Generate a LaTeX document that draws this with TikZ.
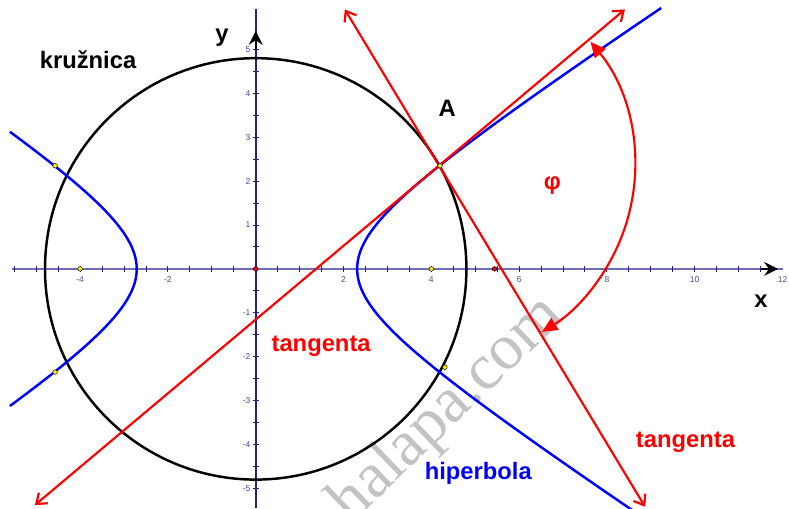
\documentclass[tikz,border=0pt]{standalone}
\usepackage{fontspec}
\setmainfont{Liberation Sans}
\newfontfamily\wmfont{Liberation Serif}
\usetikzlibrary{arrows.meta, positioning}
\definecolor{axisblue}{RGB}{110,110,185}
\definecolor{axisnavy}{RGB}{35,35,140}
\definecolor{ticktext}{RGB}{70,70,165}
\definecolor{wmgray}{RGB}{195,195,195}
\tikzstyle{axisline}    = [line width=1.1pt]
\tikzstyle{tickmark}    = [line width=0.6pt]
\tikzstyle{ticklabel}   = [text=ticktext, font=\fontsize{5.5}{6}\selectfont, inner sep=1pt]
\tikzstyle{lbl}         = [font=\fontsize{15.4}{18}\selectfont\bfseries, inner sep=0pt]
\tikzstyle{curve}       = [line width=1.6pt]
\tikzstyle{tangentline} = [red, line width=1.4pt, {Straight Barb[length=6pt,width=9pt]}-{Straight Barb[length=6pt,width=9pt]}]
\tikzstyle{phiarc}      = [red, line width=1.4pt, {Triangle[length=10pt,width=9pt]}-{Triangle[length=10pt,width=9pt]}]
\tikzstyle{pt}          = [circle, draw=black, line width=0.3pt, inner sep=0pt, minimum size=3pt]

\begin{document}
\begin{tikzpicture}[line join=round]
        \useasboundingbox (-5.825,-5.447) rectangle (12.148,6.125);
        \clip (-5.825,-5.447) rectangle (12.148,6.125);

        \node (wm) [text=wmgray, font=\wmfont\fontsize{42}{44}\selectfont, rotate=44, anchor=base, inner sep=0pt] at (4.62,-3.47) {halapa.com};

        \draw [axisline, axisblue] (-5.55,0) -- (12.0,0);
        \draw [axisline, axisnavy] (0,-5.45) -- (0,5.92);
        \draw [axisline, -{Stealth[length=9pt,width=9pt,inset=3pt]}, black] (11.5,0) -- (11.9,0);
        \draw [axisline, -{Stealth[length=9pt,width=9pt,inset=3pt]}, black] (0,5.0) -- (0,5.42);
        \foreach \x in {-5.5,-5,...,11.5}
            \draw [tickmark, axisnavy] (\x,-0.07) -- (\x,0.07);
        \foreach \y in {-5,-4.5,...,5}
            \draw [tickmark, axisnavy] (-0.07,\y) -- (0.07,\y);
        \foreach \x in {-4,-2,2,4,6,8,10,12}
            \node (xl\x) [ticklabel] at (\x,-0.24) {\x};
        \foreach \y in {-5,-4,-3,-2,-1,1,2,3,4,5}
            \node (yl\y) [ticklabel, anchor=east] at (-0.08,\y) {\y};

        \coordinate (O) at (0,0);
        \coordinate (A) at (4.2,2.35);
        \draw [curve, black] (O) circle [radius=4.8];

        \draw [curve, blue] plot [domain=-1.4:1.4, samples=60, smooth]
            ({-0.2-2.51*0.5*(exp(\x)+exp(-\x))}, {1.64*0.5*(exp(\x)-exp(-\x))});
        \draw [curve, blue] plot [domain=-1.95:2.0, samples=70, smooth]
            ({-0.2+2.51*0.5*(exp(\x)+exp(-\x))}, {1.64*0.5*(exp(\x)-exp(-\x))});

        \coordinate (T1a) at (-5.03,-5.38);
        \coordinate (T1b) at (8.41,5.91);
        \coordinate (T2a) at (2.03,5.91);
        \coordinate (T2b) at (8.87,-5.42);
        \draw [tangentline] (T1a) -- (T1b);
        \draw [tangentline] (T2a) -- (T2b);

        \draw [phiarc] (A) ++(39.5:4.44) arc [start angle=39.5, end angle=-58.5, radius=4.44];

        \node (P0) [pt, fill=red]    at (O) {};
        \node (P1) [pt, fill=red]    at (5.44,0) {};
        \node (F1) [pt, fill=yellow] at (-4,0) {};
        \node (F2) [pt, fill=yellow] at (4,0) {};
        \node (H1) [pt, fill=yellow] at (-4.57,2.35) {};
        \node (H2) [pt, fill=yellow] at (-4.57,-2.35) {};
        \node (H3) [pt, fill=yellow] at (4.31,-2.24) {};
        \node (PA) [pt, fill=yellow] at (A) {};

        \node (lblcirc) [lbl]             at (-3.82,4.76) {kružnica};
        \node (lbly)    [lbl]             at (-0.77,5.27) {y};
        \node (lblx)    [lbl]             at (11.51,-0.73) {x};
        \node (lblA)    [lbl]             at (4.36,3.65) {A};
        \node (lblphi)  [lbl, text=red]   at (6.76,1.89) {φ};
        \node (lbltan1) [lbl, text=red]   at (1.49,-1.76) {tangenta};
        \node (lbltan2) [lbl, text=red]   at (9.79,-3.94) {tangenta};
        \node (lblhyp)  [lbl, text=blue]  at (5.07,-4.65) {hiperbola};
    \end{tikzpicture}
\end{document}
